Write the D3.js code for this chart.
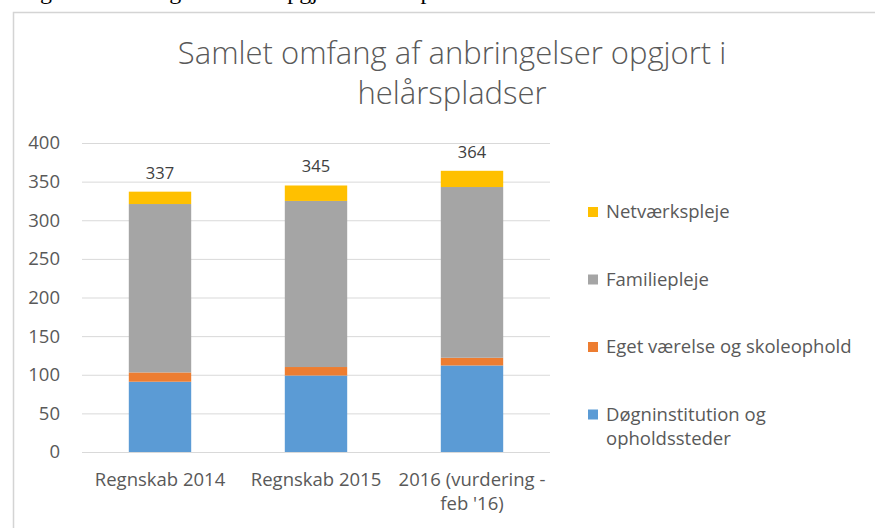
<!DOCTYPE html>
<html>
<head>
<meta charset="utf-8">
<script src="https://cdn.jsdelivr.net/npm/d3@7"></script>
<style>
  body { margin: 0; background: #fff; }
  svg { display: block; font-family: "Open Sans", sans-serif; }
</style>
</head>
<body>
<script>
// values
var categories = ["Regnskab 2014", "Regnskab 2015", "2016 (vurdering - feb '16)"];
var seriesNames = ["Døgninstitution og opholdssteder", "Eget værelse og skoleophold", "Familiepleje", "Netværkspleje"];
var dogn = [91, 99, 112];
var eget = [12, 11, 10];
var familie = [218, 215, 221];
var netvaerk = [16, 20, 21];
var totals = [337, 345, 364];
var yTicks = [0, 50, 100, 150, 200, 250, 300, 350, 400];
var colors = ["#5B9BD5", "#ED7D31", "#A5A5A5", "#FFC000"];

var W = 875, H = 528;
var plotLeft = 82, plotRight = 550, plotTop = 143, plotBottom = 452;

var svg = d3.select("body").append("svg")
  .attr("width", W)
  .attr("height", H);

// caption line from the document, cut off at the top edge
svg.append("text")
  .attr("x", 20)
  .attr("y", -1)
  .style("font-family", "'Liberation Serif', serif")
  .style("font-size", "24px")
  .attr("fill", "#000")
  .text("Figur 3: Anbringelser i alt opgjort i helårspladser");

// chart frame
svg.append("rect")
  .attr("x", 13.5).attr("y", 12.5)
  .attr("width", 950).attr("height", 600)
  .attr("fill", "none")
  .attr("stroke", "#d4d4d4")
  .attr("stroke-width", 1.5);

// title
var title = svg.append("text")
  .attr("text-anchor", "middle")
  .attr("fill", "#595959")
  .style("font-size", "31px")
  .style("font-weight", 300);
title.append("tspan").attr("x", 452).attr("y", 64).text("Samlet omfang af anbringelser opgjort i");
title.append("tspan").attr("x", 452).attr("y", 104).text("helårspladser");

// table for the stack
var table = categories.map(function(c, i){
  var row = { cat: c };
  row[seriesNames[0]] = dogn[i];
  row[seriesNames[1]] = eget[i];
  row[seriesNames[2]] = familie[i];
  row[seriesNames[3]] = netvaerk[i];
  return row;
});

var x = d3.scaleBand()
  .domain(categories)
  .range([plotLeft, plotRight])
  .paddingInner(0.6)
  .paddingOuter(0.3);

var y = d3.scaleLinear()
  .domain([0, 400])
  .range([plotBottom, plotTop]);

var color = d3.scaleOrdinal().domain(seriesNames).range(colors);

// y axis with gridlines
var yAxis = svg.append("g")
  .attr("transform", "translate(" + plotLeft + ",0)")
  .call(d3.axisLeft(y).tickValues(yTicks).tickSize(-(plotRight - plotLeft)).tickPadding(22));
yAxis.select(".domain").remove();
yAxis.selectAll(".tick line").attr("stroke", "#d9d9d9");
yAxis.selectAll(".tick text")
  .attr("fill", "#595959")
  .style("font-size", "18.5px")
  .style("font-family", "'Open Sans', sans-serif");

// stacked bars
var stacked = d3.stack().keys(seriesNames)(table);

svg.append("g").selectAll("g")
  .data(stacked)
  .join("g")
  .attr("fill", function(d){ return color(d.key); })
  .selectAll("rect")
  .data(function(d){ return d; })
  .join("rect")
  .attr("x", function(d){ return x(d.data.cat); })
  .attr("y", function(d){ return y(d[1]); })
  .attr("height", function(d){ return y(d[0]) - y(d[1]); })
  .attr("width", x.bandwidth());

// totals above bars
svg.append("g").selectAll("text")
  .data(categories)
  .join("text")
  .attr("x", function(d){ return x(d) + x.bandwidth() / 2; })
  .attr("y", function(d, i){ return y(totals[i]) - 13; })
  .attr("text-anchor", "middle")
  .attr("fill", "#404040")
  .style("font-size", "16.5px")
  .text(function(d, i){ return totals[i]; });

// wrap text into lines no wider than width
function wrap(sel, width, lineHeight){
  sel.each(function(){
    var t = d3.select(this);
    var words = t.text().split(/\s+/);
    var xx = +(t.attr("x") || 0);
    var yy = +(t.attr("y") || 0);
    var dy = t.attr("dy") || "0";
    t.text(null);
    var line = [];
    var n = 0;
    var tspan = t.append("tspan").attr("x", xx).attr("y", yy).attr("dy", dy);
    words.forEach(function(w){
      line.push(w);
      tspan.text(line.join(" "));
      if (tspan.node().getComputedTextLength() > width && line.length > 1) {
        line.pop();
        tspan.text(line.join(" "));
        line = [w];
        n++;
        tspan = t.append("tspan")
          .attr("x", xx)
          .attr("y", yy + n * lineHeight)
          .attr("dy", dy)
          .text(w);
      }
    });
  });
}

// x axis
var xAxis = svg.append("g")
  .attr("transform", "translate(0," + plotBottom + ")")
  .call(d3.axisBottom(x).tickSize(0).tickPadding(0));
xAxis.select(".domain").remove();
xAxis.selectAll(".tick text")
  .attr("y", 34)
  .attr("dy", null)
  .attr("fill", "#595959")
  .style("font-size", "18.5px")
  .style("font-family", "'Open Sans', sans-serif")
  .call(wrap, 165, 24);

// legend, top entry is the top of the stack
var legend = svg.append("g").selectAll("g")
  .data(seriesNames.slice().reverse())
  .join("g")
  .attr("transform", function(d, i){ return "translate(588," + (212 + i * 67.5) + ")"; });

legend.append("rect")
  .attr("x", 0).attr("y", -5)
  .attr("width", 10).attr("height", 10)
  .attr("fill", function(d){ return color(d); });

legend.append("text")
  .attr("x", 18)
  .attr("y", 0)
  .attr("dy", "0.35em")
  .attr("fill", "#595959")
  .style("font-size", "18.5px")
  .text(function(d){ return d; })
  .call(wrap, 262, 24);
</script>
</body>
</html>
